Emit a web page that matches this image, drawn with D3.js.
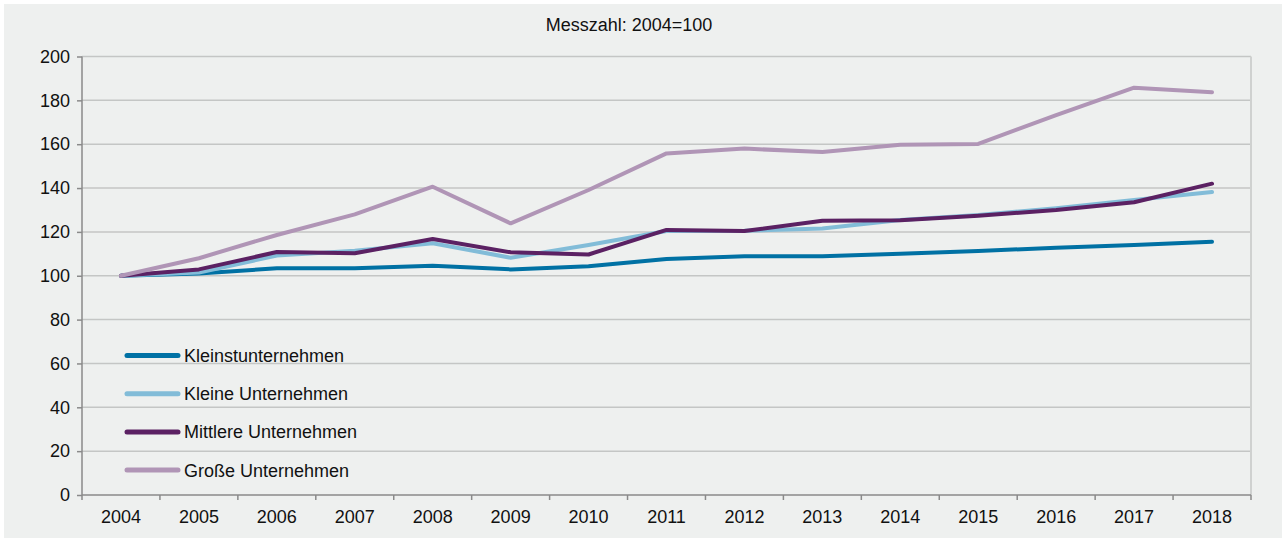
<!DOCTYPE html>
<meta charset="utf-8">
<head>
  <script src="https://cdn.jsdelivr.net/npm/d3@7"></script>
  <style>
    body { margin: 0; background: #fff; }
    text { font-family: "Liberation Sans", Arial, sans-serif; fill: #111; }
  </style>
</head>
<body>
<div id="chart"></div>
<script>
  // data
  const years = ["2004","2005","2006","2007","2008","2009","2010","2011","2012","2013","2014","2015","2016","2017","2018"];
  const kleinst  = [100, 101.0, 103.4, 103.4, 104.6, 102.9, 104.3, 107.6, 108.9, 108.9, 110.0, 111.3, 112.8, 114.0, 115.5];
  const kleine   = [100, 101.5, 109.2, 111.4, 114.8, 108.2, 114.0, 120.4, 120.5, 121.6, 125.4, 127.7, 130.8, 134.5, 138.2];
  const mittlere = [100, 102.9, 110.8, 110.3, 116.8, 110.7, 109.7, 120.9, 120.4, 125.1, 125.3, 127.4, 130.0, 133.5, 142.0];
  const grosse   = [100, 108.0, 118.6, 128.0, 140.6, 123.9, 139.1, 155.8, 158.0, 156.4, 159.8, 160.1, 173.3, 185.8, 183.7];
  const seriesNames = ["Kleinstunternehmen", "Kleine Unternehmen", "Mittlere Unternehmen", "Große Unternehmen"];
  const yTicks = [0, 20, 40, 60, 80, 100, 120, 140, 160, 180, 200];

  const colors = ["#0071a4", "#82bcd8", "#5b2163", "#b095b6"];
  const series = [kleinst, kleine, mittlere, grosse];

  const W = 1285, H = 542;
  const margin = {top: 56.5, right: 34, bottom: 47, left: 82};
  const fs = "18px";

  var svg = d3.select("#chart").append("svg")
      .attr("width", W).attr("height", H);

  svg.append("rect")
      .attr("x", 4).attr("y", 4)
      .attr("width", 1278).attr("height", 534)
      .attr("fill", "#eef0ef");

  var x = d3.scaleBand().domain(years).range([margin.left, W - margin.right]);
  var y = d3.scaleLinear().domain([0, 200]).range([H - margin.bottom, margin.top]);

  // title
  svg.append("text")
      .attr("x", 629).attr("y", 31)
      .attr("text-anchor", "middle")
      .style("font-size", fs)
      .text("Messzahl: 2004=100");

  // gridlines
  svg.append("g").selectAll("line")
      .data(yTicks.filter(d => d > 0))
      .enter().append("line")
      .attr("x1", margin.left).attr("x2", W - margin.right)
      .attr("y1", d => y(d)).attr("y2", d => y(d))
      .attr("stroke", "#c4c6c5").attr("stroke-width", 1.5);

  // right border
  svg.append("line")
      .attr("x1", W - margin.right).attr("x2", W - margin.right)
      .attr("y1", y(200)).attr("y2", y(0))
      .attr("stroke", "#cfd1d0").attr("stroke-width", 2);

  // y axis
  var yAxis = svg.append("g")
      .attr("transform", "translate(" + margin.left + ",0)")
      .call(d3.axisLeft(y).tickValues(yTicks).tickSize(5).tickPadding(7));
  yAxis.selectAll("text").style("font-size", fs);
  yAxis.selectAll("line, path").attr("stroke", "#8a8a8a").attr("stroke-width", 1.5);
  yAxis.select(".domain").attr("d", "M0," + y(200) + "V" + y(0));

  // x axis with ticks between categories
  var xg = svg.append("g").attr("transform", "translate(0," + y(0) + ")");
  xg.append("line")
      .attr("x1", margin.left).attr("x2", W - margin.right)
      .attr("stroke", "#8a8a8a").attr("stroke-width", 1.5);
  xg.selectAll("line.tick")
      .data(years.concat(["end"]))
      .enter().append("line").attr("class", "tick")
      .attr("x1", (d, i) => margin.left + i * x.step())
      .attr("x2", (d, i) => margin.left + i * x.step())
      .attr("y1", 0).attr("y2", 5)
      .attr("stroke", "#8a8a8a").attr("stroke-width", 1.5);
  xg.selectAll("text")
      .data(years)
      .enter().append("text")
      .attr("x", d => x(d) + x.bandwidth() / 2)
      .attr("y", 28)
      .attr("text-anchor", "middle")
      .style("font-size", fs)
      .text(d => d);

  // lines
  var line = d3.line()
      .x((d, i) => x(years[i]) + x.bandwidth() / 2)
      .y(d => y(d));

  svg.append("g").selectAll("path")
      .data(series)
      .enter().append("path")
      .attr("d", line)
      .attr("fill", "none")
      .attr("stroke", (d, i) => colors[i])
      .attr("stroke-width", 4)
      .attr("stroke-linejoin", "round")
      .attr("stroke-linecap", "round");

  // legend
  var legend = svg.append("g").selectAll("g")
      .data(seriesNames)
      .enter().append("g")
      .attr("transform", (d, i) => "translate(127," + (355.5 + i * 38.2) + ")");
  legend.append("line")
      .attr("x1", 0).attr("x2", 51)
      .attr("stroke", (d, i) => colors[i])
      .attr("stroke-width", 5)
      .attr("stroke-linecap", "round");
  legend.append("text")
      .attr("x", 57).attr("y", 6.5)
      .style("font-size", fs)
      .text(d => d);
</script>
</body>
</html>
